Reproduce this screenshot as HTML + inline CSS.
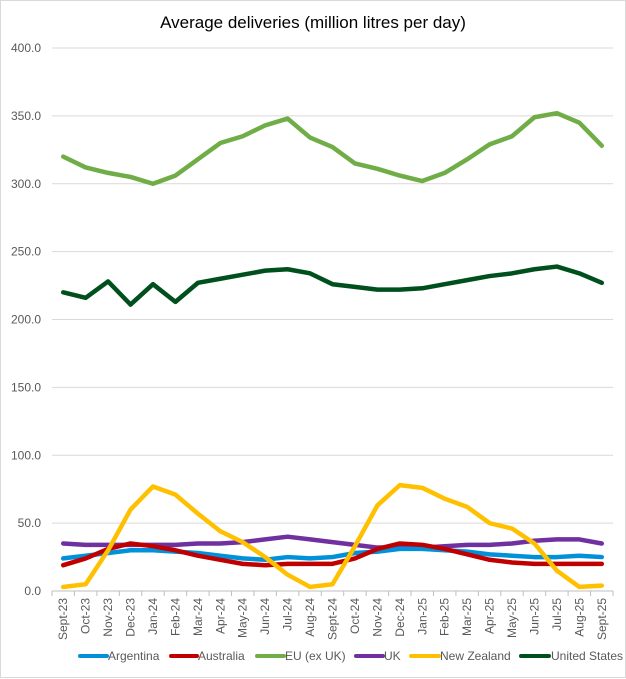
<!DOCTYPE html>
<html><head><style>
body{margin:0;background:#fff;}
svg{display:block;font-family:"Liberation Sans",Arial,sans-serif;}
</style></head><body>
<svg width="626" height="679" viewBox="0 0 626 679">
<rect x="0.5" y="0.5" width="625" height="677" fill="#fff" stroke="#d9d9d9"/>
<text x="313" y="28" text-anchor="middle" font-size="17" fill="#000">Average deliveries (million litres per day)</text>
<g id="grid"></g>
<g id="series"></g>
<g id="xl"></g>
<g font-size="12" fill="#595959">
<line x1="80" y1="656" x2="107" y2="656" stroke="#0091DA" stroke-width="4" stroke-linecap="round"/><text x="108" y="660">Argentina</text>
<line x1="171" y1="656" x2="197" y2="656" stroke="#C00000" stroke-width="4" stroke-linecap="round"/><text x="198" y="660">Australia</text>
<line x1="257" y1="656" x2="284" y2="656" stroke="#70AD47" stroke-width="4" stroke-linecap="round"/><text x="285" y="660">EU (ex UK)</text>
<line x1="356" y1="656" x2="383" y2="656" stroke="#7030A0" stroke-width="4" stroke-linecap="round"/><text x="384" y="660">UK</text>
<line x1="411" y1="656" x2="439" y2="656" stroke="#FFC000" stroke-width="4" stroke-linecap="round"/><text x="440" y="660">New Zealand</text>
<line x1="521" y1="656" x2="549" y2="656" stroke="#00501E" stroke-width="4" stroke-linecap="round"/><text x="551" y="660">United States</text>
</g>
</svg>
<script>
const ns="http://www.w3.org/2000/svg";
const y0=591,k=1.3575,x0=52,w=22.44;
const Y=v=>y0-v*k, X=i=>x0+w*(i+0.5);
const g=document.getElementById('grid');
function el(p,t,a,txt){const e=document.createElementNS(ns,t);for(const n in a)e.setAttribute(n,a[n]);if(txt)e.textContent=txt;p.appendChild(e);return e;}
for(let v=0;v<=400;v+=50){
 el(g,'line',{x1:x0,x2:613,y1:Y(v),y2:Y(v),stroke:'#d9d9d9','stroke-width':1});
 el(g,'text',{x:41,y:Y(v)+4,'text-anchor':'end','font-size':12,fill:'#595959'},v.toFixed(1));
}
el(g,'line',{x1:x0,x2:613,y1:y0,y2:y0,stroke:'#bfbfbf','stroke-width':1});
for(let i=0;i<=25;i++)el(g,'line',{x1:x0+w*i,x2:x0+w*i,y1:y0,y2:y0+5,stroke:'#bfbfbf'});
const labs=["Sept-23","Oct-23","Nov-23","Dec-23","Jan-24","Feb-24","Mar-24","Apr-24","May-24","Jun-24","Jul-24","Aug-24","Sept-24","Oct-24","Nov-24","Dec-24","Jan-25","Feb-25","Mar-25","Apr-25","May-25","Jun-25","Jul-25","Aug-25","Sept-25"];
const xl=document.getElementById('xl');
labs.forEach((l,i)=>{el(xl,'text',{transform:`translate(${X(i)+4},598) rotate(-90)`,'text-anchor':'end','font-size':12,fill:'#595959'},l);});
const S=[
["#70AD47",[320,312,308,305,300,306,318,330,335,343,348,334,327,315,311,306,302,308,318,329,335,349,352,345,328]],
["#00501E",[220,216,228,211,226,213,227,230,233,236,237,234,226,224,222,222,223,226,229,232,234,237,239,234,227]],
["#7030A0",[35,34,34,34,34,34,35,35,36,38,40,38,36,34,32,32,32,33,34,34,35,37,38,38,35]],
["#0091DA",[24,26,28,30,30,29,28,26,24,23,25,24,25,28,29,31,31,30,29,27,26,25,25,26,25]],
["#C00000",[19,24,31,35,33,30,26,23,20,19,20,20,20,24,31,35,34,31,27,23,21,20,20,20,20]],
["#FFC000",[3,5,30,60,77,71,57,44,36,25,12,3,5,33,63,78,76,68,62,50,46,35,15,3,4]]];
const sg=document.getElementById('series');
S.forEach(([c,d])=>{el(sg,'polyline',{points:d.map((v,i)=>X(i)+','+Y(v)).join(' '),fill:'none',stroke:c,'stroke-width':4.5,'stroke-linejoin':'round','stroke-linecap':'round'});});
</script>
</body></html>
